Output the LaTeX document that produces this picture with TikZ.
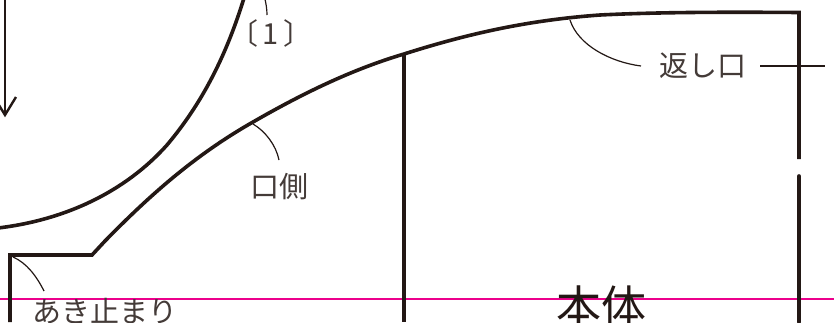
\documentclass[tikz,border=0pt]{standalone}
\usepackage{fontspec}
\setmainfont{Noto Sans CJK JP}
\newfontfamily\jpfont{Noto Sans CJK JP}
\definecolor{inkk}{RGB}{35,24,21}
\definecolor{pinkk}{RGB}{236,0,140}
\begin{document}
\begin{tikzpicture}[x=1pt,y=-1pt,
  thick line/.style={draw=inkk,line width=3.6pt,line join=miter},
  thin line/.style={draw=inkk,line width=1.2pt},
  label text/.style={inner sep=0pt,text=inkk!85,font=\jpfont\fontsize{29}{29}\selectfont},
  title text/.style={inner sep=0pt,text=inkk,font=\jpfont\fontsize{45}{45}\selectfont}]
\useasboundingbox (0,0) rectangle (834,322);
\clip (0,0) rectangle (834,322);
\fill[white] (0,0) rectangle (834,322);
\draw[pinkk,line width=2.2pt] (0,299) -- (834,299);
% pattern outline
\draw[thick line] (10,322) -- (10,255) -- (92,255) -- (105,241)
  .. controls (150,195) and (195,155) .. (253,122)
  .. controls (300,95) and (350,70) .. (404,54)
  .. controls (470,33) and (530,20) .. (600,15)
  .. controls (660,12) and (730,12) .. (799,12.5) -- (799,159);
\draw[thick line,line cap=round] (799,176) -- (799,322);
\draw[thick line] (404,54) -- (404,322);
% folded curve
\draw[thick line] (244,-2) .. controls (228,50) and (205,100) .. (167,145)
  .. controls (125,192) and (65,220) .. (-2,228);
% arrow
\draw[draw=inkk,line width=2.4pt] (5,-2) -- (5,114);
\draw[draw=inkk,line width=2.4pt,line join=miter] (16,97) -- (5,115) -- (-6,97);
% labels
\node[label text] (kaeshi) at (703,66) {返し口};
\node[label text] (kuchi) at (279,187) {口側};
\node[label text,anchor=west] (aki) at (32,311) {あき止まり};
\node[label text] (one) at (271,33) {〔\kern4pt 1\kern4pt 〕};
\node[title text] (hontai) at (601,306) {本体};
% leaders
\coordinate (k1) at (570,20);
\coordinate (k2) at (641,66);
\coordinate (k3) at (760,66);
\coordinate (k4) at (825,66);
\coordinate (m1) at (253,124);
\coordinate (m2) at (279,160);
\coordinate (a1) at (13,257);
\coordinate (a2) at (44,291);
\coordinate (o1) at (265,-1);
\coordinate (o2) at (267,15);
\draw[thin line] (k1) .. controls (578,45) and (610,62) .. (k2);
\draw[thin line] (k3) -- (k4);
\draw[thin line] (m1) .. controls (265,131) and (276,145) .. (m2);
\draw[thin line] (a1) .. controls (27,263) and (37,277) .. (a2);
\draw[thin line] (o1) .. controls (266,4) and (267,9) .. (o2);
\end{tikzpicture}
\end{document}
